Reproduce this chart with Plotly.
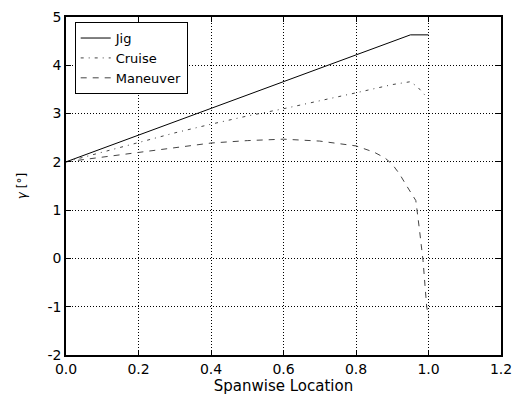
import plotly.graph_objects as go

jig_x = [0.0, 0.95, 1.0]
jig_y = [2.0, 4.63, 4.63]

cruise_x = [0.0, 0.1, 0.2, 0.3, 0.4, 0.5, 0.6, 0.7, 0.8, 0.9, 0.95, 0.97, 1.0]
cruise_y = [2.0, 2.2, 2.4, 2.6, 2.78, 2.95, 3.1, 3.26, 3.43, 3.6, 3.66, 3.55, 3.3]

man_x = [0.0, 0.1, 0.2, 0.3, 0.4, 0.5, 0.6, 0.7, 0.8, 0.85, 0.88, 0.9, 0.92, 0.94, 0.965, 0.975, 0.985, 0.995, 1.0]
man_y = [2.0, 2.1, 2.2, 2.3, 2.39, 2.44, 2.47, 2.43, 2.33, 2.2, 2.08, 1.95, 1.75, 1.5, 1.2, 0.6, -0.05, -1.0, -1.2]

x_ticks = [0.0, 0.2, 0.4, 0.6, 0.8, 1.0, 1.2]
y_ticks = [-2, -1, 0, 1, 2, 3, 4, 5]
y_tick_labels = ["-2", "-1", "0", "1", "2", "3", "4", "5"]

fig = go.Figure()
fig.add_trace(go.Scatter(x=jig_x, y=jig_y, mode="lines", name="Jig",
                         line=dict(color="#000000", width=1, dash="solid")))
fig.add_trace(go.Scatter(x=cruise_x, y=cruise_y, mode="lines", name="Cruise",
                         line=dict(color="#444444", width=1, dash="3px,5px,1px,5px")))
fig.add_trace(go.Scatter(x=man_x, y=man_y, mode="lines", name="Maneuver",
                         line=dict(color="#444444", width=1, dash="6px,6px")))

axis_common = dict(
    showline=True, linecolor="black", linewidth=1.5, mirror="ticks",
    ticks="inside", ticklen=5, tickcolor="black",
    showgrid=True, gridcolor="black", gridwidth=1, griddash="1px,2px",
    zeroline=False, automargin=False,
    tickfont=dict(family="DejaVu Sans", size=14, color="black"),
)

fig.update_layout(
    width=517, height=403,
    margin=dict(l=66, r=16, t=17, b=48),
    plot_bgcolor="white", paper_bgcolor="white",
    font=dict(family="DejaVu Sans", color="black"),
    xaxis=dict(range=[0, 1.2], tickvals=x_ticks, tickformat=".1f",
               title=dict(text="Spanwise Location", font=dict(size=15), standoff=4),
               **axis_common),
    yaxis=dict(range=[-2, 5], tickvals=y_ticks, ticktext=y_tick_labels,
               title=dict(text="<i>γ</i> [°]", font=dict(size=12), standoff=18),
               **axis_common),
    legend=dict(x=0.02, y=0.985, xanchor="left", yanchor="top",
                bordercolor="black", borderwidth=1, bgcolor="white",
                font=dict(family="DejaVu Sans", size=13),
                tracegroupgap=0, itemwidth=30),
    showlegend=True,
)

fig.write_html("out.html", config={"displayModeBar": False},
               post_script="document.body.style.margin='0';document.body.style.overflow='hidden';")
